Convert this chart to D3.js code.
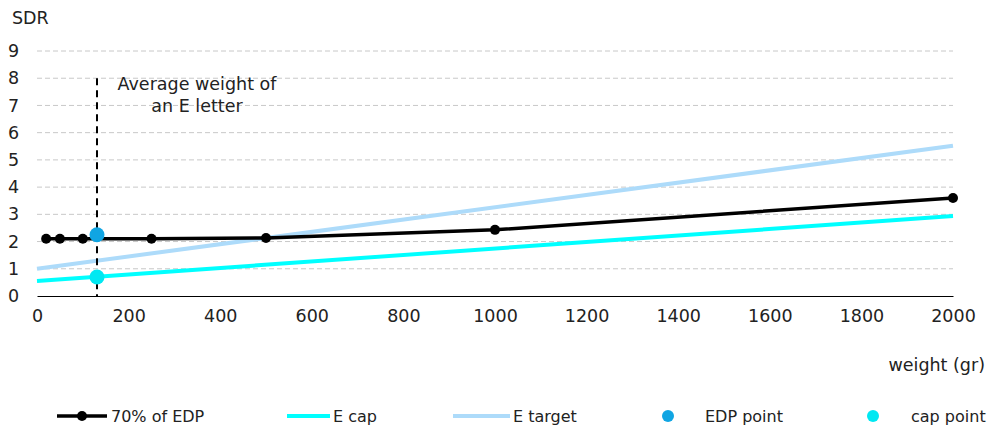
<!DOCTYPE html>
<html>
<head>
<meta charset="utf-8">
<script src="https://cdn.jsdelivr.net/npm/d3@7"></script>
<style>
  body { margin: 0; background: #fff; }
  svg text { font-family: Verdana, "DejaVu Sans", sans-serif; fill: #222; }
</style>
</head>
<body>
<svg id="chart" width="994" height="434"></svg>
<script>
// Weight (gr) and SDR values
const edpWeights = [20, 50, 100, 250, 500, 1000, 2000];
const edpValues  = [2.1, 2.1, 2.1, 2.1, 2.13, 2.43, 3.6];
const capWeights = [0, 2000];
const capValues  = [0.55, 2.94];
const targetWeights = [0, 2000];
const targetValues  = [1.0, 5.52];
const avgWeight = 131;
const edpPoint = 2.25;
const capPoint = 0.7;
const xTicks = [0, 200, 400, 600, 800, 1000, 1200, 1400, 1600, 1800, 2000];
const yTicks = [0, 1, 2, 3, 4, 5, 6, 7, 8, 9];
const legendLabels = ["70% of EDP", "E cap", "E target", "EDP point", "cap point"];

const colors = { edp: "#000000", cap: "#00FFFF", target: "#ADDBFA", edpPt: "#10A5E3", capPt: "#00E8F2" };
const FS = 17.5;
const LFS = 16;

const svg = d3.select("#chart");
const m = { left: 37, right: 41, top: 51, bottom: 138 };
const W = 994, H = 434;
const x = d3.scaleLinear().domain([0, 2000]).range([m.left, W - m.right]);
const y = d3.scaleLinear().domain([0, 9]).range([H - m.bottom, m.top]);

// horizontal gridlines
svg.append("g").selectAll("line").data(yTicks.filter(d => d > 0)).join("line")
  .attr("x1", x(0)).attr("x2", x(2000))
  .attr("y1", d => y(d)).attr("y2", d => y(d))
  .attr("stroke", "#c8c8c8").attr("stroke-width", 1).attr("stroke-dasharray", "5,3");

// x axis
const xAxis = svg.append("g").attr("transform", `translate(0,${y(0)})`)
  .call(d3.axisBottom(x).tickValues(xTicks).tickSize(0).tickPadding(14).tickFormat(d3.format("d")));
xAxis.select(".domain").attr("stroke", "#000");
xAxis.selectAll("text").attr("font-size", FS).attr("fill", "#222");

// y axis labels
const yAxis = svg.append("g").attr("transform", `translate(${m.left},0)`)
  .call(d3.axisLeft(y).tickValues(yTicks).tickSize(0).tickFormat(d3.format("d")));
yAxis.select(".domain").remove();
yAxis.selectAll("text").attr("font-size", FS).attr("fill", "#222")
  .attr("text-anchor", "start").attr("x", -m.left + 8);

svg.append("text").attr("x", 12).attr("y", 24).attr("font-size", FS).text("SDR");
svg.append("text").attr("x", 985).attr("y", 371).attr("font-size", FS).attr("text-anchor", "end").text("weight (gr)");

const line = d3.line().x(d => x(d[0])).y(d => y(d[1]));

// E target
svg.append("path").datum(d3.zip(targetWeights, targetValues)).attr("d", line)
  .attr("fill", "none").attr("stroke", colors.target).attr("stroke-width", 4);
// E cap
svg.append("path").datum(d3.zip(capWeights, capValues)).attr("d", line)
  .attr("fill", "none").attr("stroke", colors.cap).attr("stroke-width", 4);

// average weight marker
svg.append("line").attr("x1", x(avgWeight)).attr("x2", x(avgWeight))
  .attr("y1", y(8)).attr("y2", y(0))
  .attr("stroke", "#000").attr("stroke-width", 2).attr("stroke-dasharray", "7,5");
svg.append("text").attr("x", 197).attr("y", 90).attr("font-size", FS)
  .attr("text-anchor", "middle").text("Average weight of");
svg.append("text").attr("x", 197).attr("y", 112).attr("font-size", FS)
  .attr("text-anchor", "middle").text("an E letter");

// 70% of EDP
const edpData = d3.zip(edpWeights, edpValues);
svg.append("path").datum(edpData).attr("d", line)
  .attr("fill", "none").attr("stroke", colors.edp).attr("stroke-width", 3.5);
svg.append("g").selectAll("circle").data(edpData).join("circle")
  .attr("cx", d => x(d[0])).attr("cy", d => y(d[1])).attr("r", 5).attr("fill", colors.edp);

// points at average weight
svg.append("circle").attr("cx", x(avgWeight)).attr("cy", y(edpPoint)).attr("r", 7.5).attr("fill", colors.edpPt);
svg.append("circle").attr("cx", x(avgWeight)).attr("cy", y(capPoint)).attr("r", 7.5).attr("fill", colors.capPt);

// legend
const ly = 416;
const lg = svg.append("g");
const items = [
  { kind: "linept", x0: 57, x1: 107, tx: 111, color: colors.edp, w: 3.5 },
  { kind: "line", x0: 287, x1: 330, tx: 333, color: colors.cap, w: 4 },
  { kind: "line", x0: 453, x1: 510, tx: 513, color: colors.target, w: 4 },
  { kind: "pt", cx: 668, tx: 705, color: colors.edpPt },
  { kind: "pt", cx: 873, tx: 911, color: colors.capPt }
];
items.forEach((it, i) => {
  if (it.kind !== "pt") {
    lg.append("line").attr("x1", it.x0).attr("x2", it.x1).attr("y1", ly).attr("y2", ly)
      .attr("stroke", it.color).attr("stroke-width", it.w);
    if (it.kind === "linept")
      lg.append("circle").attr("cx", (it.x0 + it.x1) / 2).attr("cy", ly).attr("r", 5).attr("fill", it.color);
  } else {
    lg.append("circle").attr("cx", it.cx).attr("cy", ly).attr("r", 6).attr("fill", it.color);
  }
  lg.append("text").attr("x", it.tx).attr("y", ly + 6).attr("font-size", LFS).text(legendLabels[i]);
});
</script>
</body>
</html>
